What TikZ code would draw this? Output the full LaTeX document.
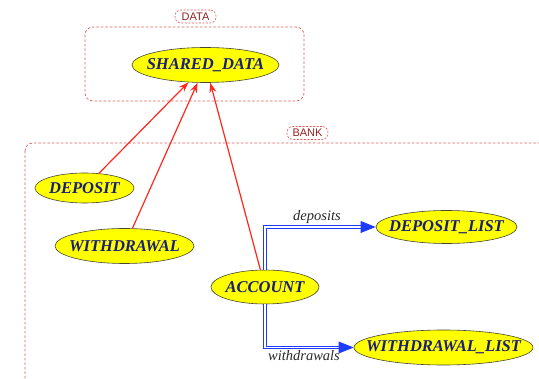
\documentclass[tikz,border=0pt]{standalone}
\usepackage{fontspec}
\setmainfont{Liberation Serif}
\setsansfont{Liberation Sans}
\usetikzlibrary{shapes.geometric,arrows.meta}
\definecolor{nodefill}{RGB}{255,255,0}
\definecolor{nodetext}{RGB}{25,30,120}
\definecolor{nodeedge}{RGB}{70,70,50}
\definecolor{clusterred}{RGB}{225,90,90}
\definecolor{clusterlbl}{RGB}{140,35,35}
\definecolor{arrred}{RGB}{255,40,30}
\definecolor{arrblue}{RGB}{30,60,255}
\definecolor{lblgray}{RGB}{40,40,40}
\tikzset{
  cls/.style={font=\fontsize{16.5}{18}\selectfont\bfseries\itshape, text=nodetext,
    ellipse, draw=nodeedge, line width=0.6pt, fill=nodefill, inner sep=0pt},
  cluster/.style={draw=clusterred, dash pattern=on 2.5pt off 2pt, line width=0.7pt, rounded corners=8pt},
  clusterlabel/.style={draw=clusterred, dash pattern=on 2pt off 1.5pt, line width=0.6pt,
    rounded corners=6pt, text=clusterlbl, font=\sffamily\fontsize{11}{12}\selectfont,
    minimum width=41pt, minimum height=13pt, inner sep=0pt},
  inherit/.style={draw=arrred, line width=1.2pt, -{Stealth[length=10pt,width=7pt]}},
  client/.style={draw=arrblue, double=white, double distance=1.8pt, line width=0.9pt},
  clienthead/.style={fill=arrblue},
  elabel/.style={text=lblgray, font=\itshape\fontsize{14.5}{16}\selectfont, inner sep=0pt}
}
\begin{document}
\begin{tikzpicture}[x=1pt,y=-1pt]
\useasboundingbox (0,0) rectangle (539,379);
\clip (0,0) rectangle (539,379);
% clusters
\draw[cluster] (85,27) rectangle (304,101);
\node[clusterlabel, fill=white] (datalbl) at (195.5,16.5) {DATA};
\draw[cluster] (25,143) rectangle (600,420);
\node[clusterlabel, fill=white] (banklbl) at (307.5,133) {BANK};
% nodes
\node[cls, minimum width=147pt, minimum height=35pt] (sd) at (205.5,65) {\makebox[0pt]{SHARED\_DATA}};
\node[cls, minimum width=99pt, minimum height=30pt] (dep) at (84.5,188) {\makebox[0pt]{DEPOSIT}};
\node[cls, minimum width=139pt, minimum height=35pt] (wd) at (124.5,246) {\makebox[0pt]{WITHDRAWAL}};
\node[cls, minimum width=108pt, minimum height=34pt] (acc) at (265,287) {\makebox[0pt]{ACCOUNT}};
\node[cls, minimum width=141pt, minimum height=33pt] (dl) at (446.5,227) {\makebox[0pt]{DEPOSIT\_LIST}};
\node[cls, minimum width=179pt, minimum height=35pt] (wl) at (443.5,347.5) {\makebox[0pt]{WITHDRAWAL\_LIST}};
% inheritance
\draw[inherit] (dep) -- (sd);
\draw[inherit] (wd) -- (sd);
\draw[inherit] (acc) -- (sd);
% client links
\draw[client] (acc.north) |- ([xshift=-13pt]dl.west);
\fill[clienthead] (dl.west) -- ++(-15,-6) -- ++(0,12) -- cycle;
\draw[client] (acc.south) |- ([xshift=-13pt]wl.west);
\fill[clienthead] (wl.west) -- ++(-15,-6) -- ++(0,12) -- cycle;
\node[elabel] (lbldep) at (317,217) {deposits};
\node[elabel] (lblwd) at (304,356) {withdrawals};
\end{tikzpicture}
\end{document}
